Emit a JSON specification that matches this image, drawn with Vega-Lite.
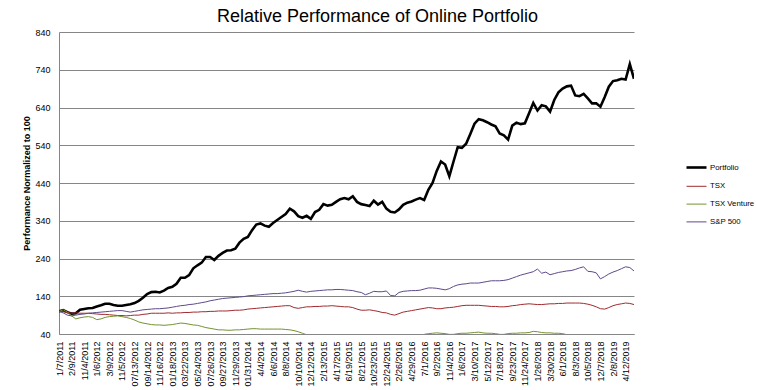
{
  "$schema": "https://vega.github.io/schema/vega-lite/v6.json",
  "width": 575,
  "height": 302,
  "autosize": {"type": "none"},
  "padding": {"left": 59, "top": 32, "right": 123, "bottom": 56},
  "background": "white",
  "title": {"text": "Relative Performance of Online Portfolio", "fontSize": 18, "font": "Liberation Sans", "fontWeight": "normal", "color": "black", "anchor": "middle", "dx": 31, "offset": 2},
  "config": {
    "font": "Liberation Sans",
    "view": {"stroke": null},
    "legend": {"labelFontSize": 7.8, "labelColor": "black", "labelFont": "Liberation Sans", "padding": 0, "rowPadding": 2.8, "labelOffset": 2, "symbolType": "stroke", "symbolSize": 400}
  },
  "data": {"values": [
    {"d":"1/7/2011","Portfolio":100,"TSX":100,"TSX Venture":100,"S&P 500":100},
    {"d":"1/14/2011","Portfolio":103,"TSX":99,"TSX Venture":104,"S&P 500":96},
    {"d":"1/28/2011","Portfolio":98,"TSX":97,"TSX Venture":98,"S&P 500":90},
    {"d":"2/9/2011","Portfolio":94,"TSX":95,"TSX Venture":88,"S&P 500":88},
    {"d":"4/8/2011","Portfolio":95,"TSX":96,"TSX Venture":80,"S&P 500":90},
    {"d":"7/8/2011","Portfolio":104,"TSX":95,"TSX Venture":83,"S&P 500":92},
    {"d":"11/4/2011","Portfolio":106,"TSX":95,"TSX Venture":85,"S&P 500":93},
    {"d":"11/18/2011","Portfolio":108,"TSX":95,"TSX Venture":86,"S&P 500":95},
    {"d":"12/9/2011","Portfolio":109,"TSX":94,"TSX Venture":84,"S&P 500":96},
    {"d":"1/6/2012","Portfolio":113,"TSX":93,"TSX Venture":78,"S&P 500":97},
    {"d":"1/27/2012","Portfolio":116,"TSX":92,"TSX Venture":80,"S&P 500":98},
    {"d":"2/17/2012","Portfolio":120,"TSX":92,"TSX Venture":84,"S&P 500":99},
    {"d":"3/9/2012","Portfolio":120,"TSX":91,"TSX Venture":86,"S&P 500":100},
    {"d":"3/30/2012","Portfolio":117,"TSX":90,"TSX Venture":87,"S&P 500":101},
    {"d":"4/20/2012","Portfolio":115,"TSX":89,"TSX Venture":88,"S&P 500":102},
    {"d":"11/5/2012","Portfolio":115,"TSX":89,"TSX Venture":86,"S&P 500":102},
    {"d":"5/25/2012","Portfolio":117,"TSX":88,"TSX Venture":84,"S&P 500":100},
    {"d":"6/15/2012","Portfolio":119,"TSX":89,"TSX Venture":81,"S&P 500":98},
    {"d":"07/13/2012","Portfolio":122,"TSX":90,"TSX Venture":77,"S&P 500":100},
    {"d":"8/3/2012","Portfolio":128,"TSX":90,"TSX Venture":72,"S&P 500":102},
    {"d":"8/24/2012","Portfolio":136,"TSX":92,"TSX Venture":69,"S&P 500":104},
    {"d":"09/14/2012","Portfolio":146,"TSX":93,"TSX Venture":67,"S&P 500":105},
    {"d":"10/5/2012","Portfolio":151,"TSX":95,"TSX Venture":65,"S&P 500":106},
    {"d":"10/26/2012","Portfolio":152,"TSX":95,"TSX Venture":64,"S&P 500":107},
    {"d":"11/16/2012","Portfolio":150,"TSX":95,"TSX Venture":64,"S&P 500":107},
    {"d":"12/7/2012","Portfolio":155,"TSX":95,"TSX Venture":63,"S&P 500":108},
    {"d":"12/28/2012","Portfolio":162,"TSX":96,"TSX Venture":64,"S&P 500":109},
    {"d":"01/18/2013","Portfolio":165,"TSX":95,"TSX Venture":65,"S&P 500":111},
    {"d":"2/8/2013","Portfolio":173,"TSX":96,"TSX Venture":67,"S&P 500":113},
    {"d":"3/1/2013","Portfolio":189,"TSX":96,"TSX Venture":69,"S&P 500":115},
    {"d":"03/22/2013","Portfolio":189,"TSX":97,"TSX Venture":68,"S&P 500":116},
    {"d":"4/12/2013","Portfolio":196,"TSX":97,"TSX Venture":66,"S&P 500":118},
    {"d":"5/3/2013","Portfolio":214,"TSX":98,"TSX Venture":64,"S&P 500":119},
    {"d":"05/24/2013","Portfolio":222,"TSX":98,"TSX Venture":63,"S&P 500":121},
    {"d":"6/14/2013","Portfolio":229,"TSX":99,"TSX Venture":60,"S&P 500":123},
    {"d":"7/5/2013","Portfolio":244,"TSX":99,"TSX Venture":57,"S&P 500":125},
    {"d":"07/26/2013","Portfolio":244,"TSX":100,"TSX Venture":55,"S&P 500":128},
    {"d":"8/16/2013","Portfolio":236,"TSX":100,"TSX Venture":53,"S&P 500":130},
    {"d":"9/6/2013","Portfolio":247,"TSX":101,"TSX Venture":51,"S&P 500":132},
    {"d":"09/27/2013","Portfolio":255,"TSX":101,"TSX Venture":51,"S&P 500":134},
    {"d":"10/18/2013","Portfolio":261,"TSX":101,"TSX Venture":50,"S&P 500":135},
    {"d":"11/8/2013","Portfolio":262,"TSX":102,"TSX Venture":50,"S&P 500":136},
    {"d":"11/29/2013","Portfolio":266,"TSX":103,"TSX Venture":51,"S&P 500":137},
    {"d":"12/20/2013","Portfolio":282,"TSX":103,"TSX Venture":51,"S&P 500":138},
    {"d":"1/10/2014","Portfolio":292,"TSX":104,"TSX Venture":52,"S&P 500":139},
    {"d":"01/31/2014","Portfolio":297,"TSX":106,"TSX Venture":53,"S&P 500":141},
    {"d":"2/21/2014","Portfolio":315,"TSX":107,"TSX Venture":54,"S&P 500":142},
    {"d":"3/14/2014","Portfolio":330,"TSX":108,"TSX Venture":54,"S&P 500":143},
    {"d":"4/4/2014","Portfolio":333,"TSX":109,"TSX Venture":53,"S&P 500":144},
    {"d":"4/25/2014","Portfolio":327,"TSX":110,"TSX Venture":53,"S&P 500":145},
    {"d":"5/16/2014","Portfolio":324,"TSX":111,"TSX Venture":53,"S&P 500":146},
    {"d":"6/6/2014","Portfolio":334,"TSX":112,"TSX Venture":53,"S&P 500":147},
    {"d":"6/27/2014","Portfolio":342,"TSX":113,"TSX Venture":53,"S&P 500":147},
    {"d":"7/18/2014","Portfolio":350,"TSX":114,"TSX Venture":53,"S&P 500":148},
    {"d":"8/8/2014","Portfolio":358,"TSX":115,"TSX Venture":52,"S&P 500":149},
    {"d":"8/29/2014","Portfolio":372,"TSX":115,"TSX Venture":51,"S&P 500":151},
    {"d":"9/19/2014","Portfolio":365,"TSX":110,"TSX Venture":49,"S&P 500":153},
    {"d":"10/10/2014","Portfolio":352,"TSX":108,"TSX Venture":46,"S&P 500":156},
    {"d":"10/31/2014","Portfolio":348,"TSX":110,"TSX Venture":42,"S&P 500":153},
    {"d":"11/21/2014","Portfolio":353,"TSX":112,"TSX Venture":38,"S&P 500":151},
    {"d":"12/12/2014","Portfolio":345,"TSX":112,"TSX Venture":36,"S&P 500":153},
    {"d":"1/2/2015","Portfolio":363,"TSX":113,"TSX Venture":35,"S&P 500":154},
    {"d":"1/23/2015","Portfolio":369,"TSX":113,"TSX Venture":34,"S&P 500":155},
    {"d":"2/13/2015","Portfolio":384,"TSX":114,"TSX Venture":33,"S&P 500":156},
    {"d":"3/6/2015","Portfolio":380,"TSX":114,"TSX Venture":32,"S&P 500":157},
    {"d":"3/27/2015","Portfolio":382,"TSX":115,"TSX Venture":31,"S&P 500":157},
    {"d":"4/17/2015","Portfolio":390,"TSX":114,"TSX Venture":30,"S&P 500":158},
    {"d":"5/8/2015","Portfolio":397,"TSX":113,"TSX Venture":30,"S&P 500":158},
    {"d":"5/29/2015","Portfolio":400,"TSX":112,"TSX Venture":31,"S&P 500":157},
    {"d":"6/19/2015","Portfolio":397,"TSX":112,"TSX Venture":30,"S&P 500":156},
    {"d":"7/10/2015","Portfolio":405,"TSX":110,"TSX Venture":29,"S&P 500":155},
    {"d":"7/31/2015","Portfolio":390,"TSX":106,"TSX Venture":28,"S&P 500":152},
    {"d":"8/21/2015","Portfolio":384,"TSX":103,"TSX Venture":27,"S&P 500":150},
    {"d":"9/11/2015","Portfolio":382,"TSX":103,"TSX Venture":27,"S&P 500":144},
    {"d":"10/2/2015","Portfolio":379,"TSX":104,"TSX Venture":26,"S&P 500":148},
    {"d":"10/23/2015","Portfolio":393,"TSX":102,"TSX Venture":26,"S&P 500":153},
    {"d":"11/13/2015","Portfolio":383,"TSX":100,"TSX Venture":27,"S&P 500":152},
    {"d":"12/4/2015","Portfolio":390,"TSX":97,"TSX Venture":26,"S&P 500":152},
    {"d":"12/24/2015","Portfolio":372,"TSX":96,"TSX Venture":25,"S&P 500":154},
    {"d":"1/15/2016","Portfolio":364,"TSX":92,"TSX Venture":25,"S&P 500":142},
    {"d":"2/5/2016","Portfolio":362,"TSX":90,"TSX Venture":26,"S&P 500":141},
    {"d":"2/26/2016","Portfolio":370,"TSX":94,"TSX Venture":27,"S&P 500":150},
    {"d":"3/18/2016","Portfolio":382,"TSX":98,"TSX Venture":29,"S&P 500":153},
    {"d":"4/8/2016","Portfolio":388,"TSX":100,"TSX Venture":31,"S&P 500":154},
    {"d":"4/29/2016","Portfolio":391,"TSX":102,"TSX Venture":33,"S&P 500":155},
    {"d":"5/20/2016","Portfolio":396,"TSX":104,"TSX Venture":35,"S&P 500":155},
    {"d":"6/10/2016","Portfolio":400,"TSX":106,"TSX Venture":37,"S&P 500":156},
    {"d":"7/1/2016","Portfolio":395,"TSX":108,"TSX Venture":39,"S&P 500":159},
    {"d":"7/22/2016","Portfolio":422,"TSX":110,"TSX Venture":41,"S&P 500":162},
    {"d":"8/12/2016","Portfolio":440,"TSX":109,"TSX Venture":42,"S&P 500":162},
    {"d":"9/2/2016","Portfolio":472,"TSX":107,"TSX Venture":43,"S&P 500":161},
    {"d":"9/23/2016","Portfolio":497,"TSX":107,"TSX Venture":42,"S&P 500":159},
    {"d":"10/14/2016","Portfolio":489,"TSX":109,"TSX Venture":41,"S&P 500":157},
    {"d":"11/4/2016","Portfolio":458,"TSX":110,"TSX Venture":39,"S&P 500":160},
    {"d":"11/25/2016","Portfolio":497,"TSX":111,"TSX Venture":39,"S&P 500":166},
    {"d":"12/16/2016","Portfolio":535,"TSX":113,"TSX Venture":41,"S&P 500":170},
    {"d":"1/6/2017","Portfolio":533,"TSX":115,"TSX Venture":42,"S&P 500":172},
    {"d":"1/27/2017","Portfolio":544,"TSX":116,"TSX Venture":42,"S&P 500":173},
    {"d":"2/17/2017","Portfolio":570,"TSX":116,"TSX Venture":43,"S&P 500":175},
    {"d":"3/10/2017","Portfolio":597,"TSX":116,"TSX Venture":44,"S&P 500":175},
    {"d":"3/31/2017","Portfolio":609,"TSX":116,"TSX Venture":45,"S&P 500":175},
    {"d":"4/21/2017","Portfolio":606,"TSX":115,"TSX Venture":43,"S&P 500":177},
    {"d":"5/12/2017","Portfolio":601,"TSX":114,"TSX Venture":42,"S&P 500":179},
    {"d":"6/2/2017","Portfolio":595,"TSX":113,"TSX Venture":42,"S&P 500":181},
    {"d":"6/23/2017","Portfolio":590,"TSX":113,"TSX Venture":41,"S&P 500":181},
    {"d":"7/18/2017","Portfolio":571,"TSX":112,"TSX Venture":39,"S&P 500":181},
    {"d":"8/8/2017","Portfolio":566,"TSX":112,"TSX Venture":39,"S&P 500":182},
    {"d":"8/29/2017","Portfolio":555,"TSX":113,"TSX Venture":41,"S&P 500":184},
    {"d":"9/23/2017","Portfolio":592,"TSX":115,"TSX Venture":42,"S&P 500":188},
    {"d":"10/13/2017","Portfolio":600,"TSX":116,"TSX Venture":42,"S&P 500":192},
    {"d":"11/3/2017","Portfolio":596,"TSX":118,"TSX Venture":43,"S&P 500":196},
    {"d":"11/24/2017","Portfolio":598,"TSX":119,"TSX Venture":43,"S&P 500":199},
    {"d":"12/15/2017","Portfolio":625,"TSX":120,"TSX Venture":44,"S&P 500":202},
    {"d":"1/5/2018","Portfolio":652,"TSX":119,"TSX Venture":47,"S&P 500":205},
    {"d":"1/26/2018","Portfolio":632,"TSX":118,"TSX Venture":46,"S&P 500":212},
    {"d":"2/16/2018","Portfolio":646,"TSX":118,"TSX Venture":44,"S&P 500":201},
    {"d":"3/9/2018","Portfolio":643,"TSX":119,"TSX Venture":43,"S&P 500":204},
    {"d":"3/30/2018","Portfolio":629,"TSX":120,"TSX Venture":43,"S&P 500":197},
    {"d":"4/20/2018","Portfolio":660,"TSX":120,"TSX Venture":42,"S&P 500":200},
    {"d":"5/11/2018","Portfolio":680,"TSX":121,"TSX Venture":42,"S&P 500":203},
    {"d":"6/1/2018","Portfolio":690,"TSX":121,"TSX Venture":41,"S&P 500":205},
    {"d":"6/22/2018","Portfolio":696,"TSX":122,"TSX Venture":38,"S&P 500":207},
    {"d":"7/13/2018","Portfolio":698,"TSX":122,"TSX Venture":36,"S&P 500":208},
    {"d":"8/3/2018","Portfolio":672,"TSX":122,"TSX Venture":35,"S&P 500":211},
    {"d":"8/24/2018","Portfolio":670,"TSX":122,"TSX Venture":34,"S&P 500":215},
    {"d":"9/14/2018","Portfolio":676,"TSX":121,"TSX Venture":33,"S&P 500":218},
    {"d":"10/5/2018","Portfolio":664,"TSX":119,"TSX Venture":33,"S&P 500":206},
    {"d":"10/26/2018","Portfolio":651,"TSX":116,"TSX Venture":32,"S&P 500":205},
    {"d":"11/16/2018","Portfolio":651,"TSX":112,"TSX Venture":31,"S&P 500":202},
    {"d":"12/7/2018","Portfolio":642,"TSX":107,"TSX Venture":31,"S&P 500":186},
    {"d":"12/28/2018","Portfolio":667,"TSX":106,"TSX Venture":30,"S&P 500":192},
    {"d":"1/18/2019","Portfolio":695,"TSX":110,"TSX Venture":29,"S&P 500":199},
    {"d":"2/8/2019","Portfolio":710,"TSX":115,"TSX Venture":28,"S&P 500":204},
    {"d":"3/1/2019","Portfolio":712,"TSX":118,"TSX Venture":29,"S&P 500":208},
    {"d":"3/22/2019","Portfolio":716,"TSX":120,"TSX Venture":30,"S&P 500":213},
    {"d":"4/12/2019","Portfolio":714,"TSX":122,"TSX Venture":30,"S&P 500":218},
    {"d":"5/3/2019","Portfolio":755,"TSX":121,"TSX Venture":29,"S&P 500":216},
    {"d":"5/24/2019","Portfolio":716,"TSX":118,"TSX Venture":28,"S&P 500":207}
  ]},
  "transform": [{"fold": ["Portfolio", "TSX", "TSX Venture", "S&P 500"], "as": ["series", "value"]}],
  "mark": {"type": "line", "clip": true, "interpolate": "linear"},
  "encoding": {
    "x": {
      "field": "d", "type": "ordinal", "sort": null,
      "scale": {"type": "point", "padding": 0},
      "axis": {
        "title": null,
        "values": ["1/7/2011","2/9/2011","11/4/2011","1/6/2012","3/9/2012","11/5/2012","07/13/2012","09/14/2012","11/16/2012","01/18/2013","03/22/2013","05/24/2013","07/26/2013","09/27/2013","11/29/2013","01/31/2014","4/4/2014","6/6/2014","8/8/2014","10/10/2014","12/12/2014","2/13/2015","4/17/2015","6/19/2015","8/21/2015","10/23/2015","12/24/2015","2/26/2016","4/29/2016","7/1/2016","9/2/2016","11/4/2016","1/6/2017","3/10/2017","5/12/2017","7/18/2017","9/23/2017","11/24/2017","1/26/2018","3/30/2018","6/1/2018","8/3/2018","10/5/2018","12/7/2018","2/8/2019","4/12/2019"],
        "labelAngle": 270, "labelFontSize": 9, "labelColor": "black", "labelPadding": 7,
        "ticks": false, "tickSize": 0, "labelOverlap": false, "labelFlush": false,
        "domainColor": "#868686", "domainWidth": 1, "grid": false
      }
    },
    "y": {
      "field": "value", "type": "quantitative",
      "scale": {"domain": [40, 840], "nice": false, "zero": false},
      "axis": {
        "title": "Performance Normalized to 100", "titleFontSize": 9, "titleFontWeight": "bold", "titleColor": "black",
        "titleX": -33, "titleY": 151, "titleAngle": 270, "titleAlign": "center", "titleBaseline": "middle",
        "values": [40,140,240,340,440,540,640,740,840],
        "labelFontSize": 9, "labelColor": "black", "labelPadding": 9,
        "ticks": false, "tickSize": 0,
        "grid": true, "gridColor": "#868686", "gridWidth": 1, "gridOpacity": 1,
        "domainColor": "#868686", "domainWidth": 1
      }
    },
    "stroke": {
      "field": "series", "type": "nominal",
      "scale": {"domain": ["Portfolio", "TSX", "TSX Venture", "S&P 500"], "range": ["#000000", "#A02B2E", "#74922F", "#5E4A8A"]},
      "legend": {"title": null, "orient": "none", "legendX": 626, "legendY": 124}
    },
    "strokeWidth": {
      "field": "series", "type": "nominal",
      "scale": {"type": "ordinal", "domain": ["Portfolio", "TSX", "TSX Venture", "S&P 500"], "range": [2.6, 1, 1, 1]},
      "legend": {"title": null, "orient": "none", "legendX": 626, "legendY": 124}
    }
  }
}
